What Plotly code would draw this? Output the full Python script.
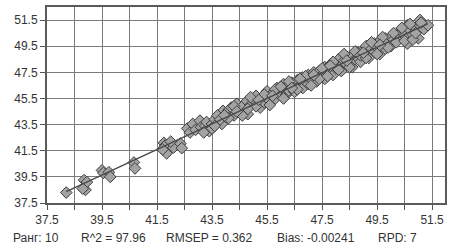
import numpy as np
import plotly.graph_objects as go

x_vals = [38.2, 38.85, 38.9, 38.95, 38.8, 39.5, 39.55, 39.75, 39.8, 40.66, 40.7, 41.75, 41.8, 41.85, 41.7, 42.1, 42.35, 42.4, 42.0,
          42.6, 42.7, 42.8, 42.9, 43.06, 43.1, 43.25, 43.3, 43.5, 43.4, 43.6, 43.86, 43.9, 43.7, 44.0, 44.1, 44.2, 44.3, 44.4, 44.5,
          44.6, 44.7, 44.77, 44.8, 44.9, 45.0, 45.1, 45.2, 45.25, 45.3, 45.4, 45.5, 45.5, 45.6, 45.7, 45.8, 45.86, 45.9, 46.0, 46.1,
          46.2, 46.2, 46.3, 46.4, 46.5, 46.5, 46.6, 46.7, 46.8, 46.8, 46.9, 47.0, 47.0, 47.1, 47.2, 47.3, 47.3, 47.4, 47.5, 47.6,
          47.6, 47.7, 47.8, 47.8, 47.9, 48.0, 48.0, 48.1, 48.2, 48.2, 48.3, 48.4, 48.4, 48.5, 48.6, 48.6, 48.7, 48.8, 48.8, 48.9,
          49.0, 49.0, 49.1, 49.2, 49.2, 49.3, 49.4, 49.4, 49.5, 49.6, 49.6, 49.7, 49.8, 49.8, 49.9, 50.0, 50.0, 50.1, 50.2, 50.3,
          50.4, 50.5, 50.6, 50.6, 50.7, 50.8, 50.9, 51.0, 51.06, 51.1, 51.2, 51.35,
          43.2, 43.5, 43.8, 44.1, 44.3, 44.6, 44.9, 45.1, 45.4, 45.6, 45.8, 46.0, 46.1, 46.3, 46.6, 46.9, 47.1, 47.4, 47.5, 47.7,
          47.9, 48.1, 48.3, 48.5, 48.7, 48.9, 49.1, 49.3, 49.5, 49.7, 49.9, 50.1, 50.2, 50.4, 50.5, 50.7, 50.8, 50.9, 51.1, 46.4,
          46.7, 47.2, 47.8, 48.4, 49.0, 49.6, 45.7, 45.2, 44.8, 44.4, 43.95, 43.6]
y_vals = [38.3, 39.25, 38.5, 39.1, 38.6, 40.0, 39.8, 39.85, 39.5, 40.6, 40.15, 42.1, 41.9, 41.3, 41.6, 41.75, 42.05, 41.7, 42.2,
          43.2, 42.9, 43.55, 43.1, 43.8, 43.3, 43.4, 43.7, 43.55, 43.0, 43.9, 43.55, 44.55, 44.2, 44.1, 44.6, 44.8, 44.2, 45.1, 44.6,
          44.9, 44.4, 45.3, 44.3, 45.0, 45.4, 45.7, 45.1, 44.8, 45.5, 45.2, 46.05, 45.6, 45.3, 45.9, 45.5, 46.3, 46.0, 45.7, 46.6,
          45.8, 46.3, 46.1, 46.7, 46.4, 46.0, 46.9, 46.5, 46.3, 47.1, 46.8, 47.3, 46.6, 47.0, 47.5, 47.1, 46.8, 47.6, 47.3, 47.9,
          47.0, 47.5, 48.1, 47.7, 47.3, 48.2, 47.8, 48.5, 48.0, 47.6, 48.4, 48.7, 48.1, 48.3, 48.8, 47.9, 48.5, 49.0, 48.6, 48.3,
          49.2, 48.8, 49.5, 49.0, 48.6, 49.3, 49.7, 49.1, 49.4, 49.9, 48.9, 49.6, 50.1, 49.3, 49.8, 49.5, 50.2, 50.0, 50.4, 50.1,
          50.6, 50.3, 51.1, 49.7, 50.7, 50.4, 50.9, 50.1, 51.5, 51.0, 50.8, 51.1,
          42.9, 43.2, 43.9, 44.0, 44.9, 44.2, 45.6, 44.9, 45.8, 45.0, 46.2, 46.4, 45.5, 46.8, 46.2, 47.2, 46.5, 47.0, 47.8, 47.2,
          48.3, 47.7, 48.9, 47.9, 49.1, 48.8, 48.6, 49.8, 48.9, 50.2, 49.4, 50.5, 49.8, 50.9, 49.9, 51.2, 50.0, 50.5, 51.3, 46.3,
          47.0, 47.3, 48.0, 48.4, 49.0, 49.6, 45.7, 45.4, 44.7, 44.5, 44.2, 43.4]

stats_labels = ["Ранг: 10", "R^2 = 97.96", "RMSEP = 0.362", "Bias: -0.00241", "RPD: 7"]
stats_px = [11, 79, 164, 275, 376]

slope, intercept = np.polyfit(x_vals, y_vals, 1)
lx = [min(x_vals), max(x_vals)]
ly = [slope * v + intercept for v in lx]

fig = go.Figure()
fig.add_trace(go.Scatter(x=x_vals, y=y_vals, mode="markers",
                         marker=dict(symbol="diamond", size=9, color="#a3a3a3",
                                     line=dict(color="#3c3c3c", width=1))))
fig.add_trace(go.Scatter(x=lx, y=ly, mode="lines", line=dict(color="#4a4a4a", width=1.5)))

L, R, T, B = 47, 10, 5, 47
pw = 455 - L - R
for txt, px in zip(stats_labels, stats_px):
    fig.add_annotation(text=txt, xref="paper", yref="paper", x=(px - L) / pw, y=(203 - 238) / 198.0,
                       xanchor="left", yanchor="middle", showarrow=False,
                       font=dict(family="Liberation Sans, Arial", size=12, color="#333333"))

axis_common = dict(showline=True, mirror=True, linecolor="#5a5a5a", linewidth=2,
                   gridcolor="#7a7a7a", gridwidth=1, zeroline=False, ticks="outside", ticklen=5,
                   tickcolor="#555555", tickfont=dict(family="Liberation Sans, Arial", size=12, color="#333333"))
fig.update_xaxes(range=[37.5, 51.97], tick0=37.5, dtick=2, tickformat=".1f",
                 minor=dict(dtick=1, tick0=37.5, showgrid=True, gridcolor="#7a7a7a", ticks="outside", ticklen=5,
                            tickcolor="#555555"), **axis_common)
fig.update_yaxes(range=[37.5, 52.5], tick0=37.5, dtick=2, tickformat=".1f", **axis_common)
fig.update_layout(width=455, height=250, margin=dict(l=L, r=R, t=T, b=B), showlegend=False,
                  plot_bgcolor="white", paper_bgcolor="white")
fig.write_html("out.html", config={"displayModeBar": False},
               post_script="document.body.style.margin='0';document.body.style.overflow='hidden';")
